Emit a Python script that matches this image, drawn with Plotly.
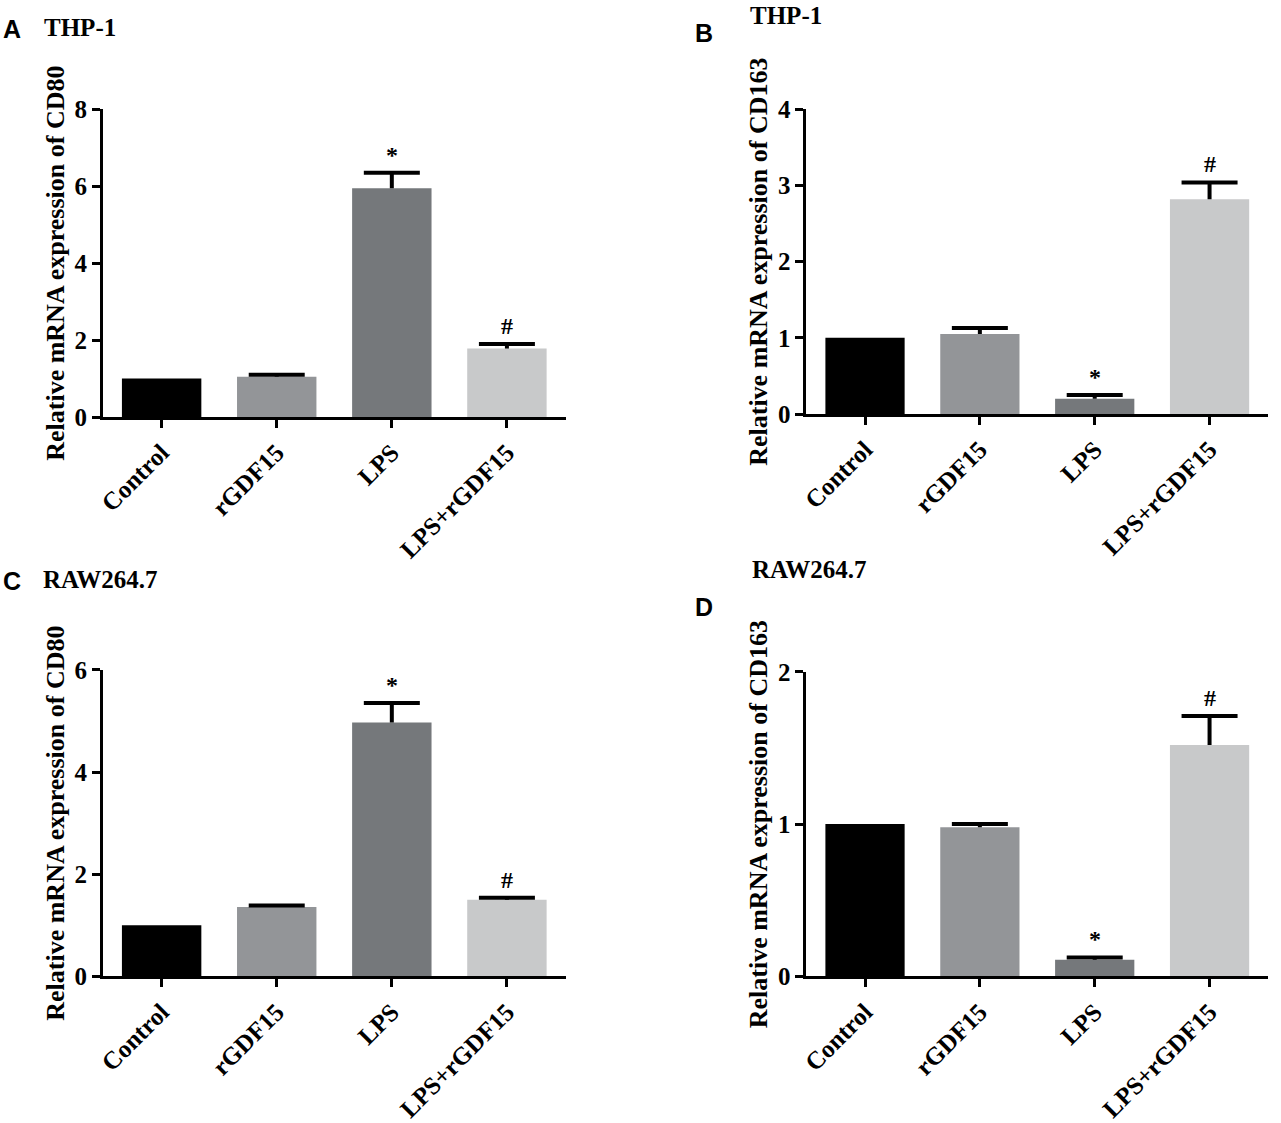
import plotly.graph_objects as go

W, H = 1281, 1123

categories = ["Control", "rGDF15", "LPS", "LPS+rGDF15"]
bar_colors = ["#000000", "#939598", "#75787b", "#c8c9ca"]

# Panel values (mean, upper SEM)
a_vals = [1.0, 1.05, 5.95, 1.78]
a_err = [0.0, 0.05, 0.40, 0.12]
b_vals = [1.0, 1.05, 0.20, 2.82]
b_err = [0.0, 0.08, 0.05, 0.22]
c_vals = [1.0, 1.36, 4.97, 1.50]
c_err = [0.0, 0.03, 0.38, 0.04]
d_vals = [1.0, 0.98, 0.11, 1.52]
d_err = [0.0, 0.02, 0.015, 0.19]

a_marks = ["", "", "*", "#"]
b_marks = ["", "", "*", "#"]
c_marks = ["", "", "*", "#"]
d_marks = ["", "", "*", "#"]

a_ticks = [0, 2, 4, 6, 8]
b_ticks = [0, 1, 2, 3, 4]
c_ticks = [0, 2, 4, 6]
d_ticks = [0, 1, 2]


# screen calibration (rendered picture vs. layout pixels)
def cx(x):
    return (x - 5.0) / 0.996


def cy(y):
    return (y - 13.6) / 0.976


panels = [
    dict(letter="A", cell="THP-1", ytitle="Relative mRNA expression of CD80",
         vals=a_vals, err=a_err, marks=a_marks, ticks=a_ticks,
         px_x=(102, 565), px_y=(110, 418), letter_pos=(0, 30), cell_pos=(41, 28)),
    dict(letter="B", cell="THP-1", ytitle="Relative mRNA expression of CD163",
         vals=b_vals, err=b_err, marks=b_marks, ticks=b_ticks,
         px_x=(806, 1268), px_y=(110, 415), letter_pos=(692, 34), cell_pos=(748, 16)),
    dict(letter="C", cell="RAW264.7", ytitle="Relative mRNA expression of CD80",
         vals=c_vals, err=c_err, marks=c_marks, ticks=c_ticks,
         px_x=(102, 565), px_y=(671, 978), letter_pos=(0, 582), cell_pos=(40, 581)),
    dict(letter="D", cell="RAW264.7", ytitle="Relative mRNA expression of CD163",
         vals=d_vals, err=d_err, marks=d_marks, ticks=d_ticks,
         px_x=(806, 1268), px_y=(673, 978), letter_pos=(692, 608), cell_pos=(750, 571)),
]

SERIF = "Liberation Serif, Times New Roman, serif"
SANS = "Liberation Sans, Arial, sans-serif"

fig = go.Figure()
layout = dict(width=W, height=H, margin=dict(l=0, r=0, t=0, b=0),
              paper_bgcolor="white", plot_bgcolor="white", showlegend=False)
annotations = []

for i, p in enumerate(panels, start=1):
    xa = "x" if i == 1 else f"x{i}"
    ya = "y" if i == 1 else f"y{i}"
    fig.add_trace(go.Bar(
        x=categories, y=p["vals"], xaxis=xa, yaxis=ya,
        marker=dict(color=bar_colors, line=dict(width=0)),
        width=0.69, hoverinfo="skip",
    ))
    # upper-only error bars: stem + cap
    sx, sy, capx, capy = [], [], [], []
    for c, v, e in zip(categories, p["vals"], p["err"]):
        if e > 0:
            sx += [c, c, None]
            sy += [v, v + e, None]
            capx.append(c)
            capy.append(v + e)
    fig.add_trace(go.Scatter(x=sx, y=sy, xaxis=xa, yaxis=ya, mode="lines",
                             line=dict(color="black", width=4),
                             hoverinfo="skip"))
    fig.add_trace(go.Scatter(x=capx, y=capy, xaxis=xa, yaxis=ya, mode="markers",
                             marker=dict(symbol="line-ew", size=40,
                                         line=dict(width=4, color="black")),
                             hoverinfo="skip"))
    x0, x1 = p["px_x"]
    y0, y1 = p["px_y"]
    ymax = p["ticks"][-1]
    xkey = "xaxis" if i == 1 else f"xaxis{i}"
    ykey = "yaxis" if i == 1 else f"yaxis{i}"
    layout[xkey] = dict(
        domain=[cx(x0) / W, cx(x1) / W], anchor=ya, type="category",
        range=[-0.51, 3.51], showline=True, linecolor="black", linewidth=3,
        ticks="outside", ticklen=8, tickwidth=3, tickcolor="black",
        tickangle=-45, showgrid=False, zeroline=False,
        tickfont=dict(family=SERIF, size=25, color="black", weight="bold"),
    )
    layout[ykey] = dict(
        domain=[1 - cy(y1) / H, 1 - cy(y0) / H], anchor=xa,
        range=[0, ymax], tickvals=p["ticks"], showline=True, linecolor="black",
        linewidth=3, ticks="outside", ticklen=8, tickwidth=3, tickcolor="black",
        showgrid=False, zeroline=False,
        tickfont=dict(family=SERIF, size=25, color="black", weight="bold"),
        title=dict(text=p["ytitle"], standoff=3,
                   font=dict(family=SERIF, size=26, color="black", weight="bold")),
    )
    for c, v, e, m in zip(categories, p["vals"], p["err"], p["marks"]):
        if m:
            annotations.append(dict(
                x=c, y=v + e, xref=xa, yref=ya, text=f"<b>{m}</b>",
                showarrow=False, yanchor="bottom", yshift=3,
                font=dict(family=SERIF, size=24, color="black")))
    lx, ly = p["letter_pos"]
    annotations.append(dict(x=cx(lx) / W, y=1 - cy(ly) / H, xref="paper", yref="paper",
                            text=f"<b>{p['letter']}</b>", showarrow=False,
                            xanchor="left", yanchor="middle",
                            font=dict(family=SANS, size=25, color="black")))
    tx, ty = p["cell_pos"]
    annotations.append(dict(x=cx(tx) / W, y=1 - cy(ty) / H, xref="paper", yref="paper",
                            text=f"<b>{p['cell']}</b>", showarrow=False,
                            xanchor="left", yanchor="middle",
                            font=dict(family=SERIF, size=25, color="black")))

layout["annotations"] = annotations
fig.update_layout(**layout)
fig.write_html("out.html", config={"displayModeBar": False},
               post_script="document.body.style.margin='0px';")
